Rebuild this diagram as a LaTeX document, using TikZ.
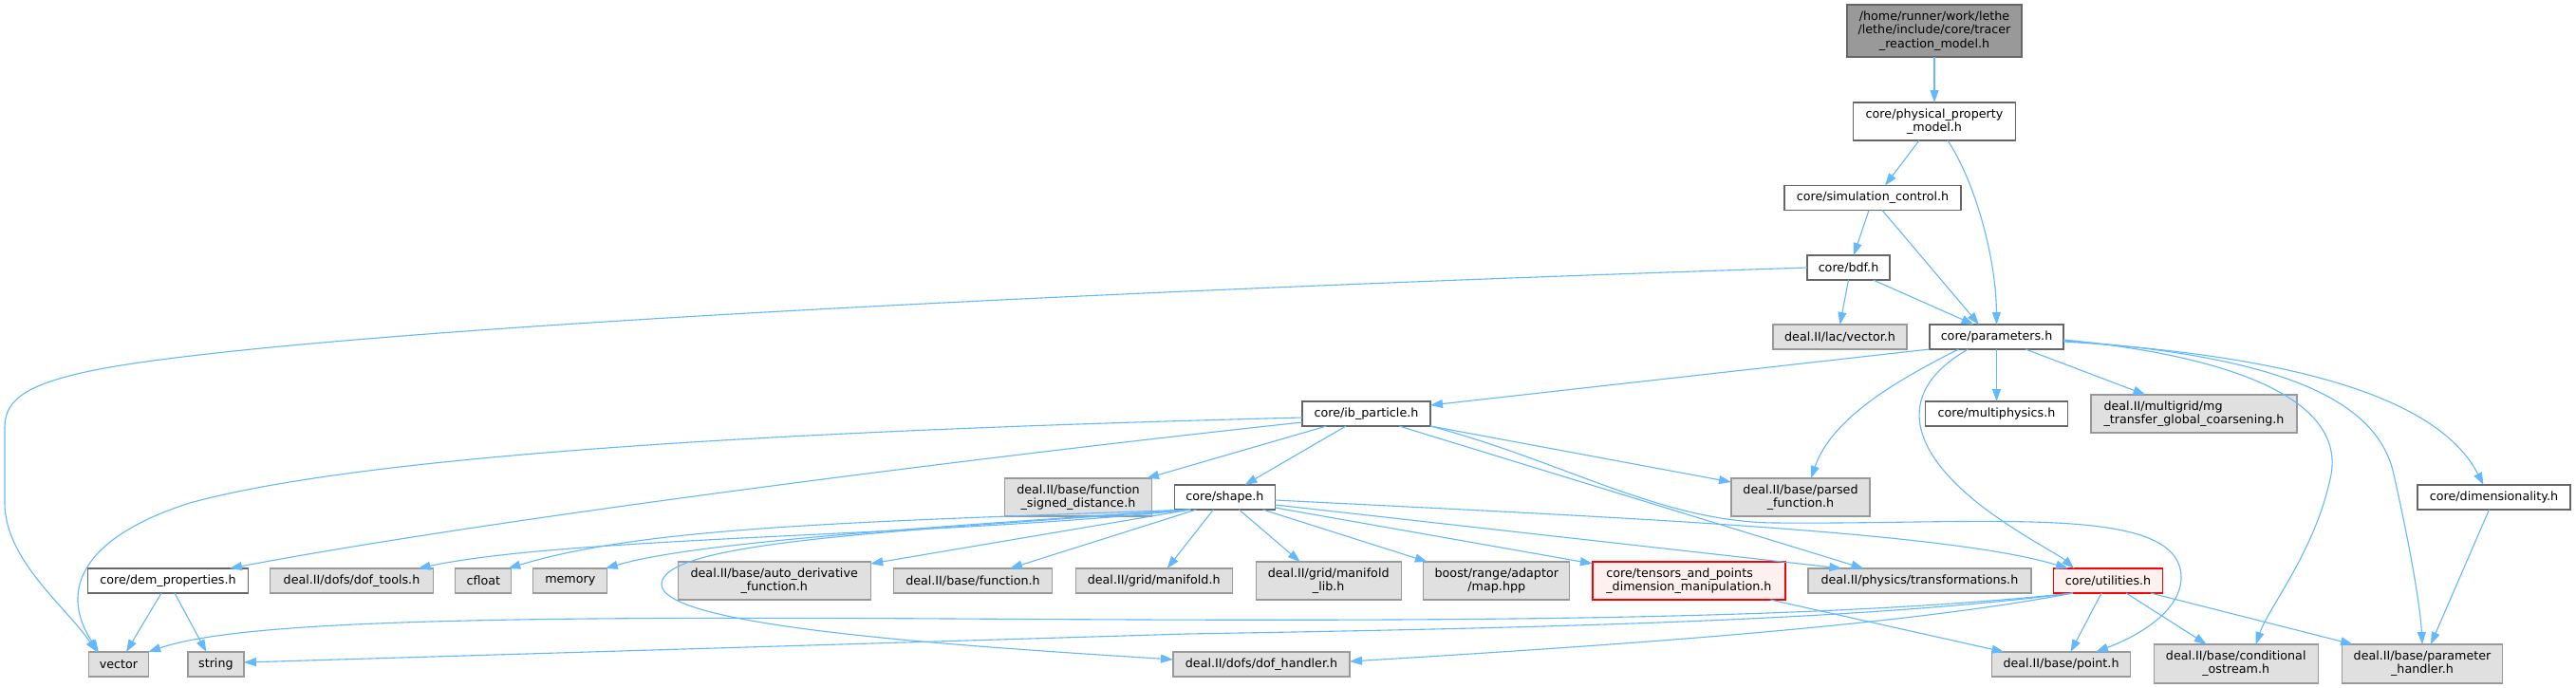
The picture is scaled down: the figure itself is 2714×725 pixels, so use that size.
\documentclass[tikz,border=0pt]{standalone}
\usepackage{fontspec}
\setmainfont{DejaVu Sans}
\usetikzlibrary{arrows.meta}
\definecolor{edgecol}{HTML}{63B8FF}
\definecolor{gfill}{HTML}{E0E0E0}
\definecolor{gdraw}{HTML}{999999}
\definecolor{wdraw}{HTML}{666666}
\definecolor{rfill}{HTML}{FFF0F0}
\begin{document}
\begin{tikzpicture}[x=1pt,y=-1pt,
  box/.style={draw, line width=1.3pt, inner sep=0pt, outer sep=0pt, align=center, font=\fontsize{12.7}{14.3}\selectfont},
  wbox/.style={box, draw=wdraw, fill=white},
  gbox/.style={box, draw=gdraw, fill=gfill},
  rbox/.style={box, draw=red, fill=rfill},
  topbox/.style={box, draw=wdraw, fill=gdraw},
  sz/.style 2 args={minimum width=#1pt, minimum height=#2pt},
  dep/.style={draw=edgecol, line width=1.1pt, -{Triangle[length=13pt,width=9pt]}}]
\useasboundingbox (0,0) rectangle (2714,725);
\fill[white] (0,0) rectangle (2714,725);
% nodes
\node[topbox, sz={184}{55}] (top) at (2038,32.5) {/home/runner/work/lethe\\/lethe/include/core/tracer\\\_reaction\_model.h};
\node[wbox, sz={171}{40}] (ppm) at (2038,128) {core/physical\_property\\\_model.h};
\node[wbox, sz={186}{26}] (sim) at (1973,208.5) {core/simulation\_control.h};
\node[wbox, sz={87}{26}] (bdf) at (1947.5,282) {core/bdf.h};
\node[gbox, sz={141}{26}] (lacvec) at (1938.5,355) {deal.II/lac/vector.h};
\node[wbox, sz={141}{26}] (params) at (2103.5,355) {core/parameters.h};
\node[wbox, sz={150}{26}] (multi) at (2103.5,436) {core/multiphysics.h};
\node[gbox, sz={217}{40}, align=left] (mg) at (2311.5,436) {deal.II/multigrid/mg\\\_transfer\_global\_coarsening.h};
\node[wbox, sz={135}{26}] (ib) at (1439.5,436) {core/ib\_particle.h};
\node[gbox, sz={155}{40}] (fsd) at (1136,524) {deal.II/base/function\\\_signed\_distance.h};
\node[wbox, sz={106}{26}] (shape) at (1290.4,524) {core/shape.h};
\node[gbox, sz={146}{40}] (parsed) at (1897,524) {deal.II/base/parsed\\\_function.h};
\node[wbox, sz={161}{26}] (dim) at (2627.5,524) {core/dimensionality.h};
\node[wbox, sz={169}{26}] (dem) at (177,612) {core/dem\_properties.h};
\node[gbox, sz={172}{26}] (doftools) at (370.5,612) {deal.II/dofs/dof\_tools.h};
\node[gbox, sz={59}{26}] (cfloat) at (509.3,612) {cfloat};
\node[gbox, sz={78}{26}] (memory) at (600.8,612) {memory};
\node[gbox, sz={203}{40}] (autoder) at (815.7,612) {deal.II/base/auto\_derivative\\\_function.h};
\node[gbox, sz={167}{26}] (func) at (1025,612) {deal.II/base/function.h};
\node[gbox, sz={165}{26}] (manif) at (1215.7,612) {deal.II/grid/manifold.h};
\node[gbox, sz={153}{40}] (mlib) at (1399.7,612) {deal.II/grid/manifold\\\_lib.h};
\node[gbox, sz={154}{40}] (boost) at (1576.8,612) {boost/range/adaptor\\/map.hpp};
\node[rbox, sz={203}{40}, align=left] (tensors) at (1779.4,612) {core/tensors\_and\_points\\\_dimension\_manipulation.h};
\node[gbox, sz={235}{26}] (trans) at (2022.4,612) {deal.II/physics/transformations.h};
\node[rbox, sz={115}{26}] (util) at (2221,612) {core/utilities.h};
\node[gbox, sz={62.5}{26}] (vector) at (125,700) {vector};
\node[gbox, sz={59}{26}] (string) at (227.4,700) {string};
\node[gbox, sz={186}{26}] (dofh) at (1329,700) {deal.II/dofs/dof\_handler.h};
\node[gbox, sz={146}{26}] (point) at (2171.5,700) {deal.II/base/point.h};
\node[gbox, sz={173}{41}] (cond) at (2355.7,699.5) {deal.II/base/conditional\\\_ostream.h};
\node[gbox, sz={169}{41}] (paramh) at (2552,699.5) {deal.II/base/parameter\\\_handler.h};
% edges: top part
\draw[dep] (top) -- (ppm);
\draw[dep] ([xshift=-16pt]ppm.south) -- ([xshift=13pt]sim.north);
\draw[dep] ([xshift=14pt]ppm.south) .. controls (2080,190) and (2103,270) .. (params.north);
\draw[dep] ([xshift=-4pt]sim.south) -- ([xshift=5.5pt]bdf.north);
\draw[dep] ([xshift=10pt]sim.south) -- ([xshift=-18.5pt]params.north);
\draw[dep] (bdf.south) -- (lacvec.north);
\draw[dep] ([xshift=26pt]bdf.south) -- ([xshift=-24pt]params.north);
\draw[dep] (bdf.west) .. controls (1200,305) and (350,345) .. (110,388) .. controls (30,403) and (5,420) .. (5,450) -- (5,530) .. controls (5,590) and (70,640) .. ([xshift=-23pt]vector.north);
% parameters
\draw[dep] (params.south west) -- ([yshift=9pt]ib.east);
\draw[dep] ([xshift=-40pt]params.south) .. controls (2000,400) and (1930,440) .. ([xshift=11pt]parsed.north);
\draw[dep] ([xshift=-30pt]params.south) .. controls (2000,410) and (2005,470) .. (2090,535) .. controls (2130,565) and (2170,585) .. ([xshift=-36pt]util.north);
\draw[dep] (params) -- (multi);
\draw[dep] ([xshift=30.5pt]params.south) -- ([xshift=-51pt]mg.north);
\draw[dep] ([yshift=-3pt]params.east) .. controls (2350,375) and (2470,420) .. (2456,500) .. controls (2440,580) and (2390,640) .. ([xshift=21pt]cond.north);
\draw[dep] ([yshift=-4pt]params.east) .. controls (2400,375) and (2505,420) .. (2522,500) .. controls (2540,580) and (2550,640) .. (paramh.north);
\draw[dep] ([yshift=-5pt]params.east) .. controls (2420,375) and (2570,420) .. ([xshift=-11pt]dim.north);
\draw[dep] ([xshift=-5pt]dim.south) -- ([xshift=9pt]paramh.north);
% ib_particle
\draw[dep] ([yshift=-4pt]ib.west) .. controls (900,452) and (400,475) .. (200,530) .. controls (90,565) and (60,620) .. ([xshift=-21pt]vector.north);
\draw[dep] ([yshift=-9pt]ib.west) .. controls (1000,485) and (500,550) .. ([xshift=65pt]dem.north);
\draw[dep] ([xshift=-42pt]ib.south) -- ([xshift=72pt]fsd.north);
\draw[dep] ([xshift=-21.5pt]ib.south) -- ([xshift=21pt]shape.north);
\draw[dep] ([xshift=34.5pt]ib.south) -- ([xshift=-59pt]trans.north);
\draw[dep] (ib.south east) -- ([yshift=16pt]parsed.west);
\draw[dep] (ib.south east) .. controls (1650,487) and (1750,550) .. (1870,551) .. controls (2100,553) and (2300,530) .. (2298,610) .. controls (2296,650) and (2240,675) .. ([xshift=36.5pt]point.north);
% shape
\draw[dep] ([xshift=-36pt]shape.south) .. controls (1000,565) and (600,565) .. ([xshift=70pt]doftools.north);
\draw[dep] ([xshift=-36pt]shape.south) .. controls (900,550) and (680,555) .. ([xshift=26pt]cfloat.north);
\draw[dep] ([xshift=-36pt]shape.south) .. controls (900,560) and (720,575) .. ([xshift=37pt]memory.north);
\draw[dep] ([xshift=-36pt]shape.south) -- ([yshift=18pt]autoder.east);
\draw[dep] ([xshift=-30pt]shape.south) -- ([xshift=39pt]func.north);
\draw[dep] ([xshift=-12pt]shape.south) -- ([xshift=14pt]manif.north);
\draw[dep] ([xshift=15pt]shape.south) -- ([xshift=-30pt]mlib.north);
\draw[dep] ([xshift=40pt]shape.south) -- ([xshift=-73pt]boost.north);
\draw[dep] ([yshift=-11pt]shape.east) -- ([yshift=18pt]tensors.west);
\draw[dep] ([yshift=-8pt]shape.east) -- ([xshift=-82pt]trans.north);
\draw[dep] ([yshift=-3pt]shape.east) .. controls (1700,545) and (2050,560) .. ([xshift=-42pt]util.north);
\draw[dep] ([xshift=-36pt]shape.south) .. controls (950,560) and (700,570) .. (697,615) .. controls (694,660) and (1000,680) .. ([yshift=5pt]dofh.west);
% dem_properties
\draw[dep] ([xshift=-7pt]dem.south) -- ([xshift=8pt]vector.north);
\draw[dep] ([xshift=7pt]dem.south) -- ([xshift=-10pt]string.north);
% utilities
\draw[dep] ([xshift=-37pt]util.south) .. controls (1900,655) and (1500,655) .. (1000,652) .. controls (500,649) and (250,655) .. (vector.north east);
\draw[dep] ([xshift=-37pt]util.south) .. controls (1950,655) and (1600,662) .. (1250,668) -- ([yshift=2pt]string.east);
\draw[dep] ([xshift=-37pt]util.south) .. controls (2000,660) and (1700,680) .. ([yshift=3pt]dofh.east);
\draw[dep] ([xshift=-7pt]util.south) -- ([xshift=10pt]point.north);
\draw[dep] ([xshift=19pt]util.south) -- ([xshift=-31pt]cond.north);
\draw[dep] ([xshift=45pt]util.south) -- ([xshift=-73pt]paramh.north);
% tensors
\draw[dep] ([xshift=86pt]tensors.south) -- ([xshift=-60pt]point.north);
\end{tikzpicture}
\end{document}
